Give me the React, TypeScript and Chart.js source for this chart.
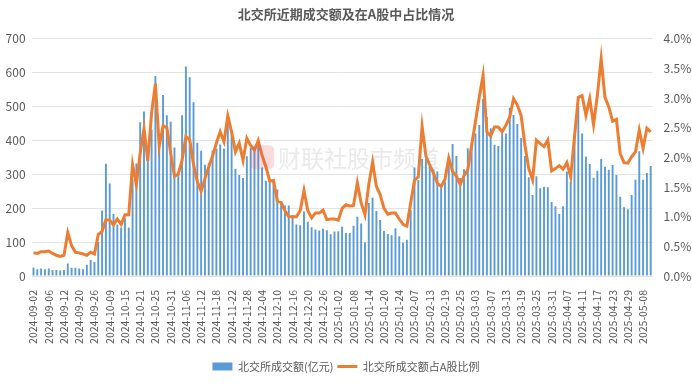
import React, { useEffect, useRef } from "react";
import { Chart, registerables } from "chart.js";

Chart.register(...registerables);

const dates: string[] = [
  "2024-09-02","2024-09-03","2024-09-04","2024-09-05","2024-09-06","2024-09-09","2024-09-10","2024-09-11","2024-09-12","2024-09-13",
  "2024-09-18","2024-09-19","2024-09-20","2024-09-23","2024-09-24","2024-09-25","2024-09-26","2024-09-27","2024-09-30",
  "2024-10-08","2024-10-09","2024-10-10","2024-10-11","2024-10-14","2024-10-15","2024-10-16","2024-10-17","2024-10-18",
  "2024-10-21","2024-10-22","2024-10-23","2024-10-24","2024-10-25","2024-10-28","2024-10-29","2024-10-30","2024-10-31",
  "2024-11-01","2024-11-04","2024-11-05","2024-11-06","2024-11-07","2024-11-08","2024-11-11","2024-11-12","2024-11-13",
  "2024-11-14","2024-11-15","2024-11-18","2024-11-19","2024-11-20","2024-11-21","2024-11-22","2024-11-25","2024-11-26",
  "2024-11-27","2024-11-28","2024-11-29",
  "2024-12-02","2024-12-03","2024-12-04","2024-12-05","2024-12-06","2024-12-09","2024-12-10","2024-12-11","2024-12-12",
  "2024-12-13","2024-12-16","2024-12-17","2024-12-18","2024-12-19","2024-12-20","2024-12-23","2024-12-24","2024-12-25",
  "2024-12-26","2024-12-27","2024-12-30","2024-12-31",
  "2025-01-02","2025-01-03","2025-01-06","2025-01-07","2025-01-08","2025-01-09","2025-01-10","2025-01-13","2025-01-14",
  "2025-01-15","2025-01-16","2025-01-17","2025-01-20","2025-01-21","2025-01-22","2025-01-23","2025-01-24","2025-01-27",
  "2025-02-05","2025-02-06","2025-02-07","2025-02-10","2025-02-11","2025-02-12","2025-02-13","2025-02-14","2025-02-17",
  "2025-02-18","2025-02-19","2025-02-20","2025-02-21","2025-02-24","2025-02-25","2025-02-26","2025-02-27","2025-02-28",
  "2025-03-03","2025-03-04","2025-03-05","2025-03-06","2025-03-07","2025-03-10","2025-03-11","2025-03-12","2025-03-13",
  "2025-03-14","2025-03-17","2025-03-18","2025-03-19","2025-03-20","2025-03-21","2025-03-24","2025-03-25","2025-03-26",
  "2025-03-27","2025-03-28","2025-03-31",
  "2025-04-01","2025-04-02","2025-04-03","2025-04-07","2025-04-08","2025-04-09","2025-04-10","2025-04-11","2025-04-14",
  "2025-04-15","2025-04-16","2025-04-17","2025-04-18","2025-04-21","2025-04-22","2025-04-23","2025-04-24","2025-04-25",
  "2025-04-28","2025-04-29","2025-04-30",
  "2025-05-06","2025-05-07","2025-05-08","2025-05-09","2025-05-12",
];

// 北交所成交额(亿元)
const amounts: number[] = [
  25, 20, 22, 20, 22, 18, 18, 16, 18, 37,
  24, 24, 22, 20, 33, 47, 41, 100, 193, 331,
  273, 183, 152, 143, 170, 143, 285, 332, 453, 485,
  345, 432, 590, 385, 534, 474, 455, 379, 300, 474,
  618, 586, 512, 393, 369, 328, 333, 370, 376, 388,
  376, 450, 428, 316, 298, 289, 353, 378, 376, 385,
  320, 281, 280, 279, 255, 220, 208, 208, 180, 152,
  150, 190, 160, 144, 137, 134, 139, 135, 123, 131,
  132, 145, 127, 127, 148, 175, 155, 99, 215, 231,
  192, 165, 133, 124, 120, 141, 117, 98, 107, 195,
  320, 283, 345, 345, 324, 314, 308, 266, 278, 351,
  389, 354, 289, 315, 377, 386, 420, 445, 522, 469,
  436, 387, 383, 420, 420, 496, 475, 448, 407, 354,
  291, 239, 294, 259, 263, 262, 218, 206, 183, 206,
  308, 278, 410, 499, 420, 352, 330, 290, 310, 345,
  322, 313, 327, 298, 234, 203, 197, 239, 284, 368,
  284, 304, 324,
];

// 北交所成交额占A股比例 (%)
const ratios: number[] = [
  0.39, 0.38, 0.41, 0.41, 0.42, 0.38, 0.35, 0.33, 0.35, 0.73,
  0.51, 0.40, 0.39, 0.37, 0.35, 0.40, 0.37, 0.70, 0.75, 0.95,
  0.94, 0.86, 0.96, 0.87, 1.03, 1.03, 1.88, 1.54, 2.07, 2.48,
  1.94, 2.75, 3.24, 2.19, 2.53, 2.50, 2.07, 1.68, 1.72, 1.95,
  2.35, 2.30, 1.88, 1.59, 1.43, 1.64, 1.84, 2.02, 2.24, 2.43,
  2.26, 2.70, 2.43, 2.09, 2.24, 1.95, 2.32, 2.20, 2.12, 2.28,
  2.03, 1.84, 1.60, 1.61, 1.26, 1.24, 1.10, 1.00, 1.00, 1.00,
  1.10, 1.44, 1.10, 0.98, 1.06, 1.06, 1.11, 0.95, 0.96, 0.96,
  0.94, 1.14, 1.20, 1.18, 1.19, 1.57, 1.23, 1.03, 1.54, 1.92,
  1.51, 1.37, 1.14, 1.04, 1.06, 1.06, 0.96, 0.87, 0.84, 1.23,
  1.61, 1.67, 2.52, 2.02, 1.87, 1.73, 1.56, 1.51, 1.63, 1.99,
  1.76, 1.68, 1.54, 1.69, 1.79, 2.20, 2.60, 3.01, 3.38, 2.43,
  2.36, 2.51, 2.51, 2.43, 2.54, 2.68, 2.99, 2.88, 2.70, 2.20,
  1.81, 1.62, 2.29, 2.23, 2.18, 2.29, 1.77, 1.81, 1.86, 1.80,
  1.91, 1.67, 2.35, 3.01, 3.04, 2.71, 2.99, 2.55, 3.04, 3.66,
  3.01, 2.85, 2.61, 2.64, 2.06, 1.91, 1.90, 2.01, 2.09, 2.46,
  2.15, 2.49, 2.43,
];

const TITLE = "北交所近期成交额及在A股中占比情况";
const BAR_LABEL = "北交所成交额(亿元)";
const LINE_LABEL = "北交所成交额占A股比例";
const WATERMARK = "财联社股市频道";

const FONT = '"Microsoft YaHei", "Noto Sans CJK SC", "Noto Sans", sans-serif';
const TEXT = "#595959";
const BLUE = "#5B9BD5";
const ORANGE = "#ED7D31";

export default function App() {
  const ref = useRef<HTMLCanvasElement>(null);

  useEffect(() => {
    if (!ref.current) return;

    const watermark = {
      id: "watermark",
      afterDatasetsDraw(chart: any) {
        const { ctx, chartArea } = chart;
        const cx = (chartArea.left + chartArea.right) / 2;
        const cy = chartArea.top + (chartArea.bottom - chartArea.top) * 0.5;
        ctx.save();
        ctx.globalAlpha = 0.2;
        ctx.fillStyle = "#e8505b";
        const lx = cx - 92, ly = cy - 12;
        ctx.beginPath();
        (ctx as any).roundRect ? (ctx as any).roundRect(lx, ly, 24, 24, 5) : ctx.rect(lx, ly, 24, 24);
        ctx.fill();
        ctx.globalAlpha = 0.22;
        ctx.fillStyle = "#9a9a9a";
        ctx.font = `23px ${FONT}`;
        ctx.textAlign = "left";
        ctx.textBaseline = "middle";
        ctx.fillText(WATERMARK, cx - 64, cy + 1);
        ctx.restore();
      },
    };

    const chart = new Chart(ref.current, {
      data: {
        labels: dates,
        datasets: [
          {
            type: "bar",
            label: BAR_LABEL,
            data: amounts,
            yAxisID: "y",
            backgroundColor: BLUE,
            borderColor: BLUE,
            borderWidth: 0,
            barPercentage: 0.5,
            categoryPercentage: 1,
            order: 1,
          } as any,
          {
            type: "line",
            label: LINE_LABEL,
            data: ratios,
            yAxisID: "y1",
            borderColor: ORANGE,
            backgroundColor: ORANGE,
            borderWidth: 3,
            pointRadius: 0,
            tension: 0,
            order: 0,
          } as any,
        ],
      },
      options: {
        animation: false,
        responsive: true,
        maintainAspectRatio: false,
        layout: { padding: { left: 0, right: 0, top: 2, bottom: 2 } },
        plugins: {
          title: {
            display: true,
            text: TITLE,
            color: TEXT,
            font: { family: FONT, size: 13, weight: "bold" },
            padding: { top: 4, bottom: 17 },
          },
          legend: {
            position: "bottom",
            labels: {
              color: TEXT,
              font: { family: FONT, size: 11 },
              usePointStyle: true,
              pointStyleWidth: 20,
              boxHeight: 8,
              padding: 4,
              sort: (a: any, b: any) => a.datasetIndex - b.datasetIndex,
              generateLabels: (c: any) => {
                const items = (Chart.defaults.plugins.legend.labels as any).generateLabels(c);
                items.forEach((it: any) => {
                  if (it.datasetIndex === 1) {
                    it.pointStyle = "line";
                    it.lineWidth = 3;
                    it.strokeStyle = ORANGE;
                  } else {
                    it.pointStyle = "rect";
                    it.lineWidth = 0;
                    it.fillStyle = BLUE;
                  }
                });
                return items;
              },
            },
          },
          tooltip: { enabled: false },
        },
        scales: {
          x: {
            grid: { display: false },
            border: { display: false },
            afterFit: (s: any) => {
              s.height = 81;
            },
            ticks: {
              autoSkip: false,
              maxRotation: 90,
              minRotation: 90,
              color: TEXT,
              font: { family: FONT, size: 10.5 },
              padding: 6,
              callback: (_v: any, i: number) => (i % 4 === 0 ? dates[i] : ""),
            },
          },
          y: {
            position: "left",
            min: 0,
            max: 700,
            afterFit: (s: any) => {
              s.width = 31.6;
            },
            ticks: { stepSize: 100, color: TEXT, font: { family: FONT, size: 12 }, padding: 6 },
            grid: { color: "#e3e3e3", drawTicks: false },
            border: { display: false },
          },
          y1: {
            position: "right",
            min: 0,
            max: 4,
            afterFit: (s: any) => {
              s.width = 39.4;
            },
            ticks: {
              stepSize: 0.5,
              color: TEXT,
              font: { family: FONT, size: 12 },
              padding: 3,
              callback: (v: any) => Number(v).toFixed(1) + "%",
            },
            grid: { display: false },
            border: { display: false },
          },
        },
      } as any,
      plugins: [watermark],
    });

    return () => chart.destroy();
  }, []);

  return (
    <div style={{ position: "fixed", left: 0, top: 0, width: 692, height: 384, background: "#fff" }}>
      <canvas ref={ref} />
    </div>
  );
}
